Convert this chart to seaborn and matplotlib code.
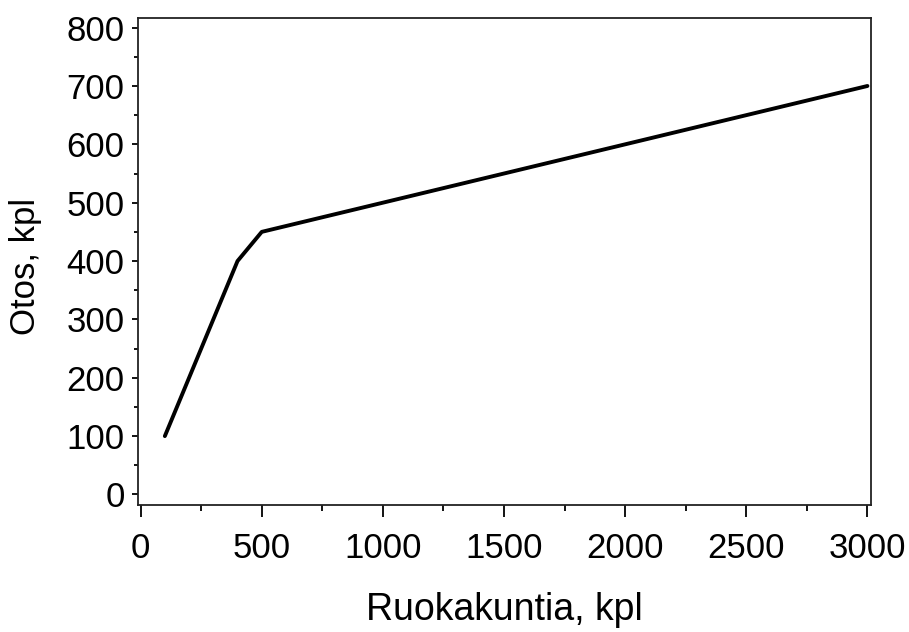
import matplotlib
matplotlib.use("Agg")
import matplotlib.pyplot as plt
import seaborn as sns
import pandas as pd
from matplotlib.ticker import MultipleLocator

# Data
ruokakuntia = [100, 400, 500, 3000]
otos = [100, 400, 450, 700]

df = pd.DataFrame({'Ruokakuntia': ruokakuntia, 'Otos': otos})

sns.set_theme(style='ticks')
plt.rcParams['font.family'] = ['Liberation Sans', 'DejaVu Sans']
plt.rcParams['text.color'] = 'black'

fig, ax = plt.subplots(figsize=(9.09, 6.32), dpi=100)
sns.lineplot(data=df, x='Ruokakuntia', y='Otos', color='black', linewidth=2.8, ax=ax, sort=False)

ax.set_xlim(-12, 3014)
ax.set_ylim(-18, 817)
ax.xaxis.set_major_locator(MultipleLocator(500))
ax.xaxis.set_minor_locator(MultipleLocator(250))
ax.yaxis.set_major_locator(MultipleLocator(100))
ax.yaxis.set_minor_locator(MultipleLocator(50))

ax.tick_params(which='both', width=1.3, colors='black', labelsize=25)
ax.tick_params(axis='x', which='major', length=8.5, pad=11)
ax.tick_params(axis='x', which='minor', length=4.5)
ax.tick_params(axis='y', which='major', length=4.5, pad=5)
ax.tick_params(axis='y', which='minor', length=3)
for s in ax.spines.values():
    s.set_linewidth(1.3)
    s.set_color('#222222')

ax.set_xlabel('Ruokakuntia, kpl', fontsize=27, color='black')
ax.set_ylabel('Otos, kpl', fontsize=25, color='black')
ax.xaxis.set_label_coords(0.5, -0.178)
ax.yaxis.set_label_coords(-0.130, 0.49)

fig.subplots_adjust(left=0.1515, right=0.958, top=0.972, bottom=0.201)
fig.savefig('out.png', dpi=100)
